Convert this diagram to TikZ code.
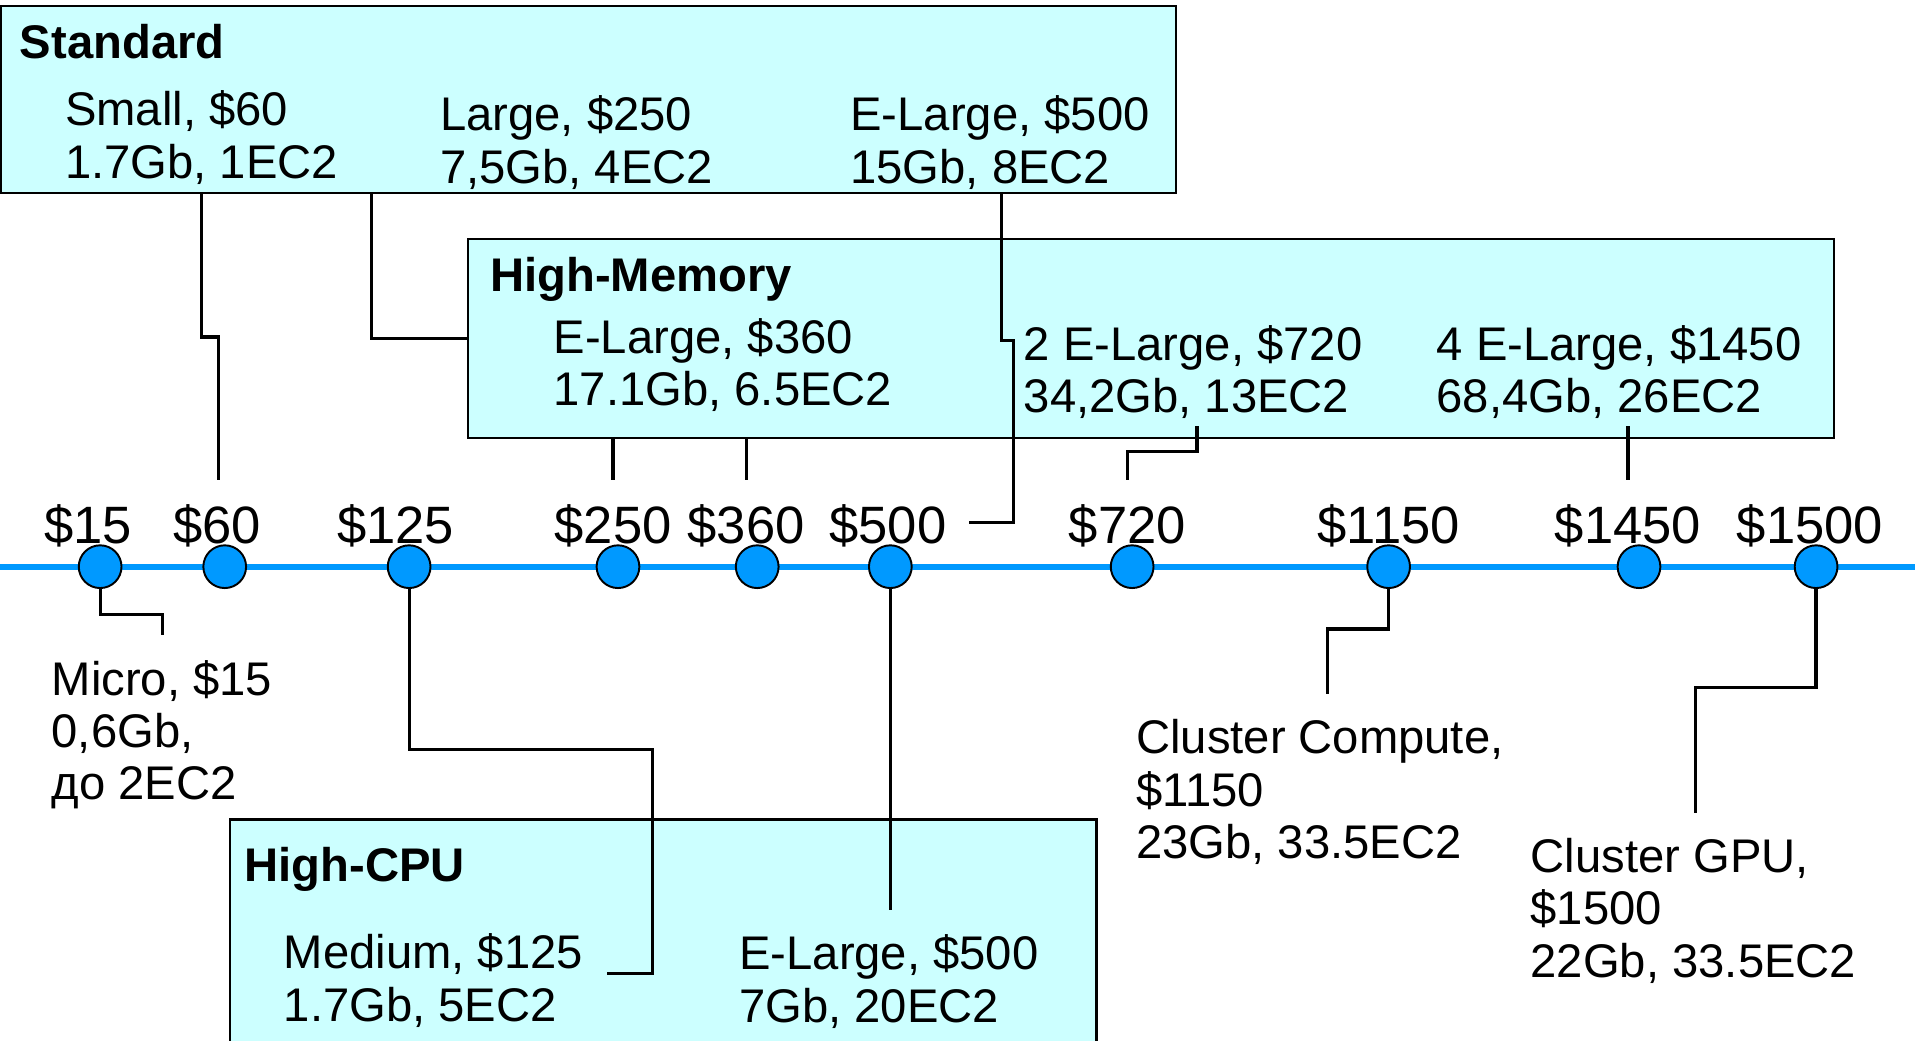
\documentclass[tikz,border=0pt]{standalone}
\usepackage{fontspec}
\setmainfont{Liberation Sans}
\definecolor{tl}{HTML}{0099FF}
\definecolor{boxfill}{HTML}{CCFFFF}
\begin{document}
\begin{tikzpicture}[x=0.02cm,y=-0.02cm,
  box/.style={draw=black, line width=1pt, fill=boxfill, anchor=north west, inner sep=0, outer sep=0},
  conn/.style={line width=1.5pt, line join=miter},
  dot/.style={circle, draw=black, line width=0.9pt, fill=tl, minimum size=0.7cm, inner sep=0},
  txt/.style={font=\fontsize{22}{24.4}\selectfont, align=left, anchor=base west, inner sep=0},
  ttl/.style={font=\bfseries\fontsize{22}{26}\selectfont, anchor=base west, inner sep=0},
  price/.style={font=\fontsize{24.5}{28}\selectfont, anchor=base, inner sep=0}]
\clip (0,0) rectangle (1568,852);
\fill[white] (0,0) rectangle (1568,852);
% timeline
\coordinate (tlL) at (0,464);
\coordinate (tlR) at (1568,464);
\draw[tl, line width=2.8pt] (tlL) -- (tlR);
% standard box
\node[box, minimum width=19.24cm, minimum height=3.06cm] (std) at (1,5) {};
% connector hidden behind high-memory box
\draw[conn] (std.south -| 304,0) |- (502,277) -- (502,393);
% other boxes
\node[box, minimum width=22.38cm, minimum height=3.26cm] (hm) at (383,196) {};
\node[box, minimum width=14.2cm, minimum height=4.4cm] (cpu) at (188,671) {};
% dots
\foreach \n/\x in {15/82,60/184,125/335,250/506,360/620,500/729,720/927,1150/1137,1450/1342,1500/1487}
  \node[dot] (c\n) at (\x,464) {};
% connectors above
\draw[conn] (std.south -| 165,0) -- (165,276) -- (179,276) -- (179,393);
\draw[conn] (std.south -| 820,0) -- (820,279) -- (830,279) -- (830,428) -- (793,428);
\draw[conn] (hm.south -| 611,0) -- (611,393);
\draw[conn] (980,349) -- (980,370) -- (923,370) -- (923,393);
\draw[conn] (1333,349) -- (1333,393);
\draw[conn] (c15.south) |- (133,503) -- (133,520);
\draw[conn] (c125.south) |- (534,614) |- (497,797);
\draw[conn] (c500.south) -- (729,745);
\draw[conn] (c1150.south) |- (1087,515) -- (1087,568);
\draw[conn] (c1500.south) |- (1388,563) -- (1388,666);
% price labels
\foreach \n/\x in {15/72,60/178,125/324,250/502,360/611,500/727,720/923,1150/1137,1450/1333,1500/1482}
  \node[price] (p\n) at (\x,445) {\$\n};
% titles
\node[ttl] (tstd) at (16,48) {Standard};
\node[ttl] (thm) at (401,239) {High-Memory};
\node[ttl] (tcpu) at (200,722) {High-CPU};
% box texts (anchor = baseline of last line)
\node[txt] (small) at (53,146) {Small, \$60\\1.7Gb, 1EC2};
\node[txt] (large) at (360,150) {Large, \$250\\7,5Gb, 4EC2};
\node[txt] (elarge) at (696,150) {E-Large, \$500\\15Gb, 8EC2};
\node[txt] (hm1) at (453,332) {E-Large, \$360\\17.1Gb, 6.5EC2};
\node[txt] (hm2) at (838,338) {2 E-Large, \$720\\34,2Gb, 13EC2};
\node[txt] (hm4) at (1176,338) {4 E-Large, \$1450\\68,4Gb, 26EC2};
\node[txt] (med) at (232,836) {Medium, \$125\\1.7Gb, 5EC2};
\node[txt] (cel) at (605,837) {E-Large, \$500\\7Gb, 20EC2};
% free texts
\node[txt] (micro) at (42,655) {Micro, \$15\\0,6Gb,\\до 2EC2};
\node[txt] (cc) at (930,703) {Cluster Compute,\\\$1150\\23Gb, 33.5EC2};
\node[txt] (gpu) at (1253,800) {Cluster GPU,\\\$1500\\22Gb, 33.5EC2};
\end{tikzpicture}
\end{document}
